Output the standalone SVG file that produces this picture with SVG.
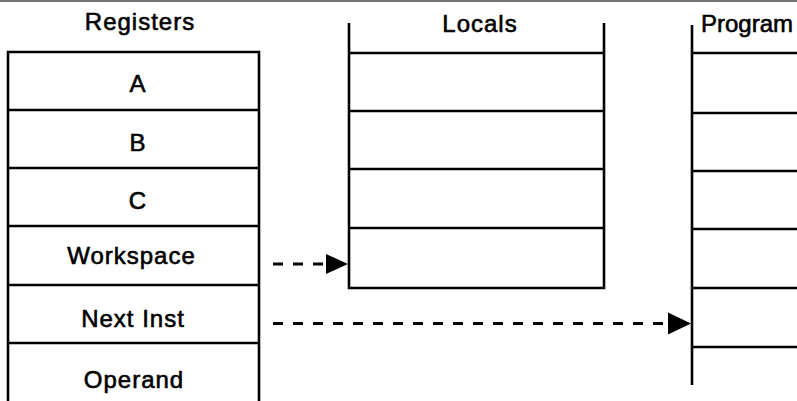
<svg xmlns="http://www.w3.org/2000/svg" width="797" height="401" viewBox="0 0 797 401">
<style>
.t{font-family:"Liberation Sans",Arial,sans-serif;font-size:24px;letter-spacing:1px;fill:#000;stroke:#000;stroke-width:0.6;text-anchor:middle}
.b{fill:none;stroke:#000;stroke-width:2.6}
.d{fill:none;stroke:#000;stroke-width:3;stroke-dasharray:10 10}
</style>
<rect width="797" height="401" fill="#fff"/>
<line x1="0" y1="1" x2="797" y2="1" stroke="#444" stroke-width="1.5"/>
<g id="registers">
<text class="t" x="140" y="30">Registers</text>
<path class="b" d="M8,405 V52 H259 V405 M8,110 H259 M8,168 H259 M8,226 H259 M8,285 H259 M8,343 H259"/>
<text class="t" x="138" y="92">A</text>
<text class="t" x="138" y="151">B</text>
<text class="t" x="138" y="209">C</text>
<text class="t" x="131.5" y="264">Workspace</text>
<text class="t" x="133" y="327">Next Inst</text>
<text class="t" x="134" y="388">Operand</text>
</g>
<g id="locals">
<text class="t" x="480" y="32">Locals</text>
<path class="b" d="M349,23 V288 H604 V23 M349,53 H604 M349,111 H604 M349,169 H604 M349,228 H604"/>
</g>
<g id="program">
<text class="t" x="701" y="32" style="text-anchor:start;letter-spacing:0">Program</text>
<path class="b" d="M692,25 V385 M692,53 H797 M692,113 H797 M692,171 H797 M692,229 H797 M692,288 H797 M692,347 H797"/>
</g>
<g id="connectors">
<line class="d" x1="273" y1="264" x2="330" y2="264"/>
<polygon points="326,254 348,264 326,274" fill="#000"/>
<line class="d" x1="273" y1="323.5" x2="670" y2="323.5"/>
<polygon points="668,312.5 691,323.5 668,334.5" fill="#000"/>
</g>
</svg>
